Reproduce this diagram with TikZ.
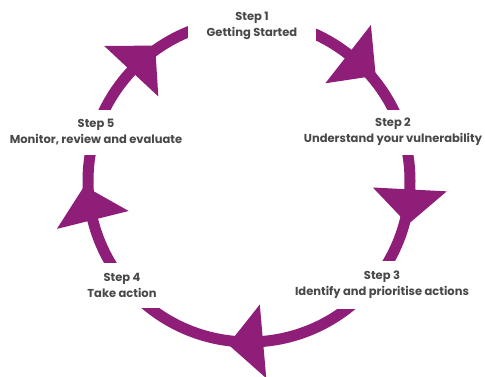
\documentclass[tikz,border=0pt]{standalone}
\usepackage{fontspec}
\setmainfont{Poppins}
\definecolor{cyclepurple}{RGB}{142,30,120}
\definecolor{labelgrey}{RGB}{72,72,72}

\begin{document}
\begin{tikzpicture}[x=1pt,y=1pt]
    \tikzstyle{step label}=[fill=white,align=center,text=labelgrey,font=\bfseries\fontsize{11.5}{16}\selectfont,minimum height=45pt,inner xsep=6pt,inner ysep=0pt]
    \tikzstyle{ring}=[draw=cyclepurple,line width=11pt]
    \tikzstyle{ring head}=[fill=cyclepurple]
    \useasboundingbox (0,0) rectangle (485,376);

    % The cycle
    \coordinate (centre) at (249,195);
    \draw[ring] (centre) circle (161);

    % Arrow heads, clockwise
    \foreach \a in {137,52,-3,-85,194}
        \fill[ring head,shift={(centre)},rotate=\a] (124,0) -- (198,0) -- (161,-35) -- cycle;

    % Step labels
    \path
    (252,350) node[step label,inner xsep=19pt] (step1) {Step 1\\Getting Started}
    (393,244) node[step label] (step2) {Step 2\\Understand your vulnerability}
    (382,91)  node[step label,minimum height=48pt] (step3) {Step 3\\Identify and prioritise actions}
    (122,91)  node[step label,inner xsep=8pt] (step4) {Step 4\\Take action}
    (96,244)  node[step label] (step5) {Step 5\\Monitor, review and evaluate};
\end{tikzpicture}
\end{document}
